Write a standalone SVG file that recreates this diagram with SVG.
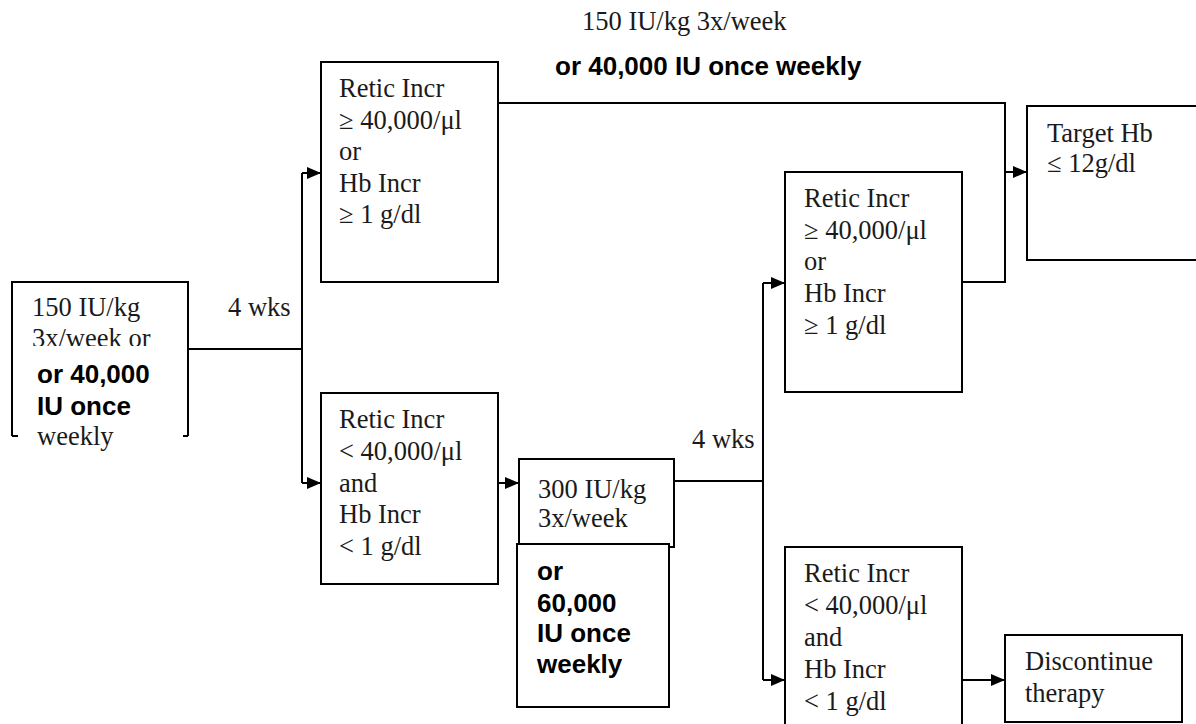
<svg xmlns="http://www.w3.org/2000/svg" width="1196" height="724" viewBox="0 0 1196 724">
  <style>
    .box { fill: #fff; stroke: #000; stroke-width: 2; }
    .line { fill: none; stroke: #000; stroke-width: 2; }
    .serif { font-family: "Liberation Serif", "Times New Roman", serif; font-size: 26.5px; fill: #1a1a1a; }
    .bold { font-family: "Liberation Sans", Arial, sans-serif; font-weight: bold; font-size: 26px; fill: #000; }
  </style>
  <defs>
    <marker id="arrow" markerWidth="14" markerHeight="12" refX="14" refY="6" orient="auto" markerUnits="userSpaceOnUse">
      <path d="M0,0 L14,6 L0,12 Z" fill="#000"/>
    </marker>
  </defs>

  <rect width="1196" height="724" fill="#fff"/>

  <!-- connectors -->
  <g id="connectors">
    <!-- start dose to first split -->
    <path class="line" d="M188,349 H302"/>
    <path class="line" d="M302,173 V483" />
    <path class="line" d="M302,173 H321" marker-end="url(#arrow)"/>
    <path class="line" d="M302,483 H321" marker-end="url(#arrow)"/>
    <!-- responder path to target -->
    <path class="line" d="M498,103 H1005 V282 H962"/>
    <path class="line" d="M1005,172 H1027" marker-end="url(#arrow)"/>
    <!-- non-responder to dose increase -->
    <path class="line" d="M498,483 H519" marker-end="url(#arrow)"/>
    <!-- dose increase to second split -->
    <path class="line" d="M674,481 H763"/>
    <path class="line" d="M763,283 V680"/>
    <path class="line" d="M763,283 H785" marker-end="url(#arrow)"/>
    <path class="line" d="M763,680 H785" marker-end="url(#arrow)"/>
    <!-- second non-response to discontinue -->
    <path class="line" d="M962,680 H1005" marker-end="url(#arrow)"/>
  </g>

  <!-- labels on connectors -->
  <g id="labels">
    <text class="serif" x="582" y="30">150 IU/kg 3x/week</text>
    <text class="bold" x="555" y="75">or 40,000 IU once weekly</text>
    <text class="serif" x="228" y="316">4 wks</text>
    <text class="serif" x="692" y="448">4 wks</text>
  </g>

  <!-- starting dose -->
  <g id="node-start">
    <path class="line" d="M12,436 V282 H188 V436"/>
    <path class="line" d="M12,436 H18 M183,436 H188"/>
    <text class="serif" x="32" y="316">150 IU/kg</text>
    <text class="serif" x="32" y="347">3x/week or</text>
    <rect x="18" y="346" width="165" height="96" fill="#fff"/>
    <text class="bold" x="37" y="383">or 40,000</text>
    <text class="bold" x="37" y="415">IU once</text>
    <text class="serif" x="37" y="445">weekly</text>
  </g>

  <!-- response after 4 weeks -->
  <g id="node-response-1">
    <rect class="box" x="321" y="62" width="177" height="220"/>
    <text class="serif" x="339" y="97">Retic Incr</text>
    <text class="serif" x="339" y="129">≥ 40,000/μl</text>
    <text class="serif" x="339" y="160">or</text>
    <text class="serif" x="339" y="192">Hb Incr</text>
    <text class="serif" x="339" y="223">≥ 1 g/dl</text>
  </g>

  <!-- no response after 4 weeks -->
  <g id="node-noresponse-1">
    <rect class="box" x="321" y="393" width="177" height="191"/>
    <text class="serif" x="339" y="428">Retic Incr</text>
    <text class="serif" x="339" y="460">&lt; 40,000/μl</text>
    <text class="serif" x="339" y="492">and</text>
    <text class="serif" x="339" y="523">Hb Incr</text>
    <text class="serif" x="339" y="555">&lt; 1 g/dl</text>
  </g>

  <!-- increased dose -->
  <g id="node-increase">
    <rect class="box" x="519" y="459" width="155" height="88"/>
    <text class="serif" x="538" y="498">300 IU/kg</text>
    <text class="serif" x="538" y="527">3x/week</text>
  </g>
  <g id="node-increase-weekly">
    <rect class="box" x="517" y="544" width="152" height="163"/>
    <text class="bold" x="537" y="580">or</text>
    <text class="bold" x="537" y="612">60,000</text>
    <text class="bold" x="537" y="642">IU once</text>
    <text class="bold" x="537" y="673">weekly</text>
  </g>

  <!-- response after further 4 weeks -->
  <g id="node-response-2">
    <rect class="box" x="785" y="172" width="177" height="220"/>
    <text class="serif" x="804" y="207">Retic Incr</text>
    <text class="serif" x="804" y="239">≥ 40,000/μl</text>
    <text class="serif" x="804" y="270">or</text>
    <text class="serif" x="804" y="302">Hb Incr</text>
    <text class="serif" x="804" y="334">≥ 1 g/dl</text>
  </g>

  <!-- no response after further 4 weeks -->
  <g id="node-noresponse-2">
    <rect class="box" x="785" y="547" width="177" height="200"/>
    <text class="serif" x="804" y="582">Retic Incr</text>
    <text class="serif" x="804" y="614">&lt; 40,000/μl</text>
    <text class="serif" x="804" y="646">and</text>
    <text class="serif" x="804" y="678">Hb Incr</text>
    <text class="serif" x="804" y="710">&lt; 1 g/dl</text>
  </g>

  <!-- target -->
  <g id="node-target">
    <rect class="box" x="1027" y="106" width="200" height="154"/>
    <text class="serif" x="1047" y="142">Target Hb</text>
    <text class="serif" x="1047" y="172">≤ 12g/dl</text>
  </g>

  <!-- discontinue -->
  <g id="node-discontinue">
    <rect class="box" x="1005" y="635" width="177" height="87"/>
    <text class="serif" x="1025" y="670">Discontinue</text>
    <text class="serif" x="1025" y="702">therapy</text>
  </g>
</svg>
